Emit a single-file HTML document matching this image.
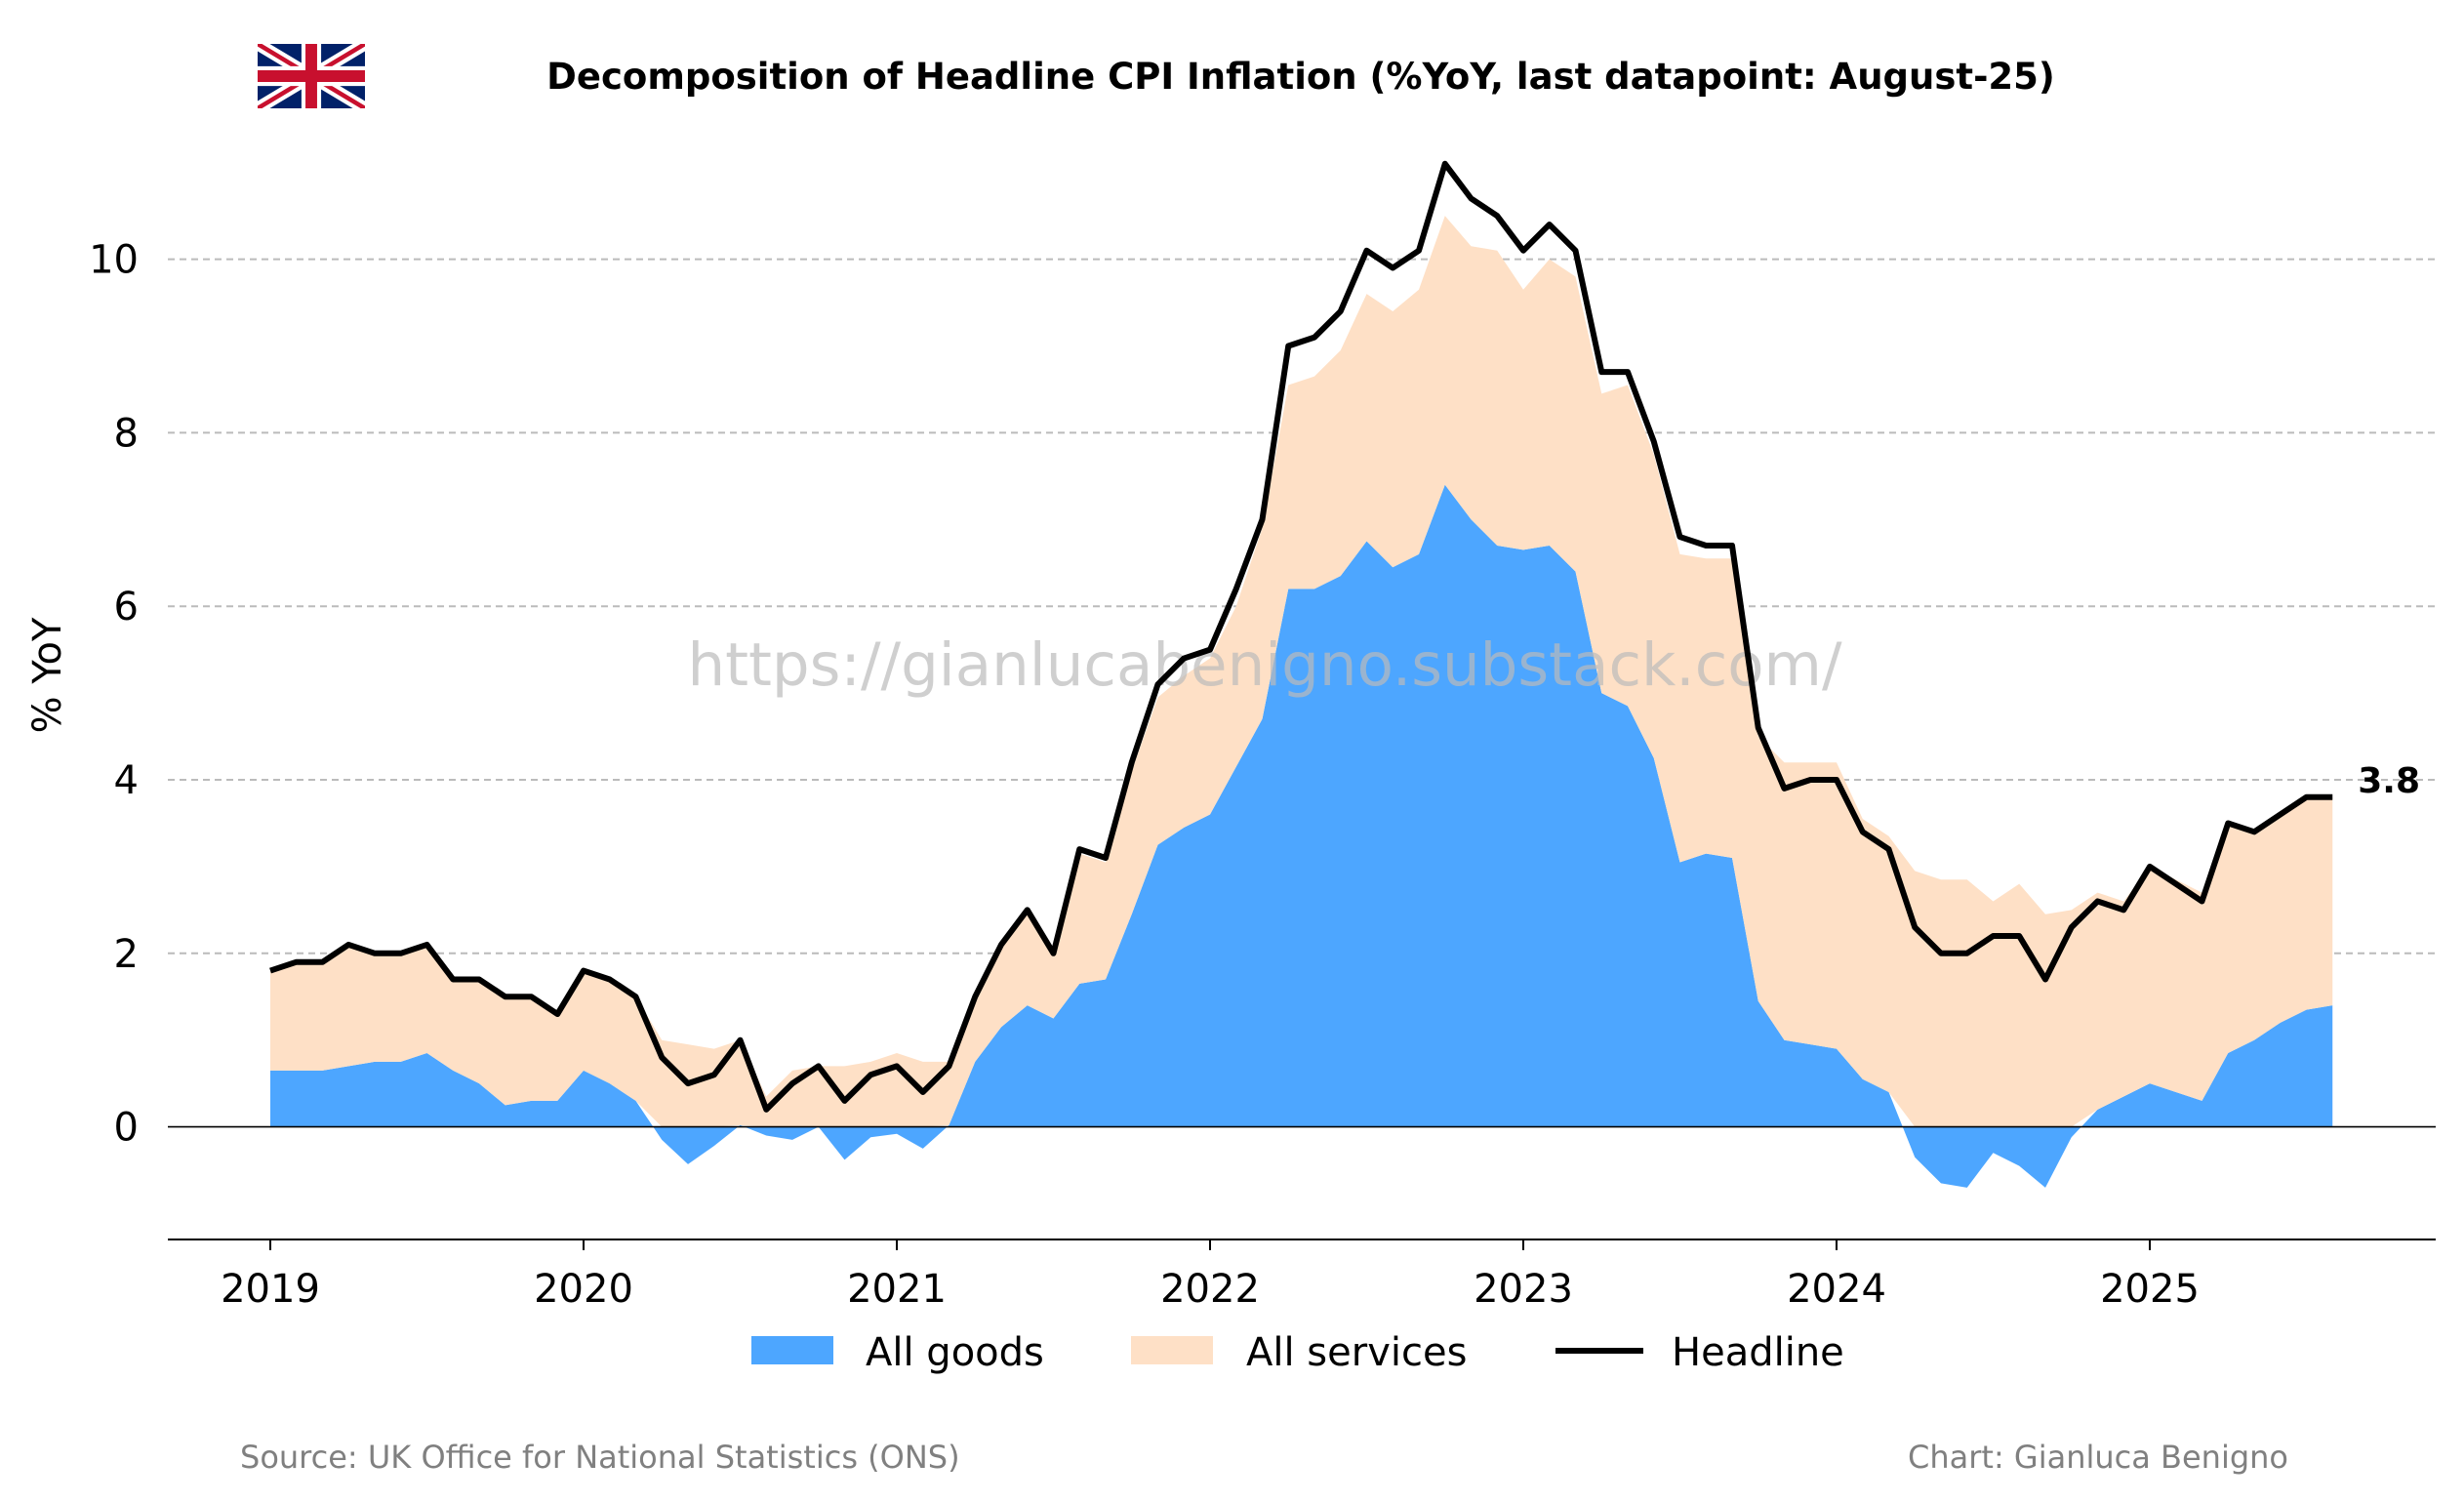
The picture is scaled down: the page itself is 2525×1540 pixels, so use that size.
<!DOCTYPE html>
<html><head><meta charset="utf-8"><style>
html,body{margin:0;padding:0;background:#fff;}
svg{display:block;font-family:"DejaVu Sans","Liberation Sans",sans-serif;}
</style></head><body>
<svg id="chart" width="2525" height="1540" viewBox="0 0 2525 1540" xmlns="http://www.w3.org/2000/svg">
<rect width="2525" height="1540" fill="#fff"/>
<g>
<svg x="264" y="45" width="110" height="66" viewBox="0 0 60 36" preserveAspectRatio="none">
<rect width="60" height="36" fill="#012169"/>
<path d="M0,0 L60,36 M60,0 L0,36" stroke="#fff" stroke-width="7"/>
<path d="M0,0 L60,36 M60,0 L0,36" stroke="#C8102E" stroke-width="2.5"/>
<path d="M30,0 V36 M0,18 H60" stroke="#fff" stroke-width="11"/>
<path d="M30,0 V36 M0,18 H60" stroke="#C8102E" stroke-width="6.5"/>
</svg>
</g>
<text x="1333" y="91" text-anchor="middle" font-size="37" font-weight="bold">Decomposition of Headline CPI Inflation (%YoY, last datapoint: August-25)</text>
<g id="grid"></g>
<g id="areas"></g>
<g id="axes"></g>
<text x="1296" y="702" text-anchor="middle" font-size="61" fill="#bbb" fill-opacity="0.7">https://gianlucabenigno.substack.com/</text>
<g id="lines"></g>
<text transform="translate(62,692) rotate(-90)" text-anchor="middle" font-size="40">% YoY</text>
<g>
<rect x="770" y="1369" width="84" height="29" fill="#4da6ff"/>
<text x="887" y="1399" font-size="40">All goods</text>
<rect x="1159" y="1369" width="84" height="29" fill="#fee0c6"/>
<text x="1277" y="1399" font-size="40">All services</text>
<line x1="1594" y1="1384" x2="1684" y2="1384" stroke="#000" stroke-width="6"/>
<text x="1713" y="1399" font-size="40">Headline</text>
</g>
<text x="246" y="1504" font-size="32" fill="#808080">Source: UK Office for National Statistics (ONS)</text>
<text x="2345" y="1504" text-anchor="end" font-size="32" fill="#808080">Chart: Gianluca Benigno</text>
</svg>
<script>
const startYear = 2019;
const goods = [0.65,0.65,0.65,0.7,0.75,0.75,0.85,0.65,0.5,0.25,0.3,0.3,
0.65,0.5,0.3,-0.15,-0.43,-0.22,0.02,-0.1,-0.15,0,-0.38,-0.12,
-0.08,-0.25,0.02,0.75,1.15,1.4,1.25,1.65,1.7,2.45,3.25,3.45,
3.6,4.15,4.7,6.2,6.2,6.35,6.75,6.45,6.6,7.4,7.0,6.7,
6.65,6.7,6.4,5.0,4.85,4.25,3.05,3.15,3.1,1.45,1.0,0.95,
0.9,0.55,0.4,-0.35,-0.65,-0.7,-0.3,-0.45,-0.7,-0.12,0.2,0.35,
0.5,0.4,0.3,0.85,1.0,1.2,1.35,1.4];
const services = [1.15,1.25,1.25,1.4,1.25,1.25,1.25,1.05,1.2,1.25,1.2,1.0,
1.15,1.2,1.2,1.0,0.95,0.9,0.98,0.35,0.65,0.7,0.7,0.75,
0.85,0.75,0.73,0.75,0.9,1.05,0.75,1.5,1.35,1.65,1.7,1.75,
1.8,1.85,2.2,2.35,2.45,2.6,2.85,2.95,3.05,3.1,3.15,3.4,
3.0,3.3,3.4,3.45,3.7,3.5,3.55,3.4,3.45,3.05,3.2,3.25,
3.3,3.0,2.95,2.95,2.85,2.85,2.6,2.8,2.45,2.5,2.5,2.25,
2.5,2.45,2.4,2.65,2.4,2.4,2.45,2.4];
const headline = [1.8,1.9,1.9,2.1,2.0,2.0,2.1,1.7,1.7,1.5,1.5,1.3,
1.8,1.7,1.5,0.8,0.5,0.6,1.0,0.2,0.5,0.7,0.3,0.6,
0.7,0.4,0.7,1.5,2.1,2.5,2.0,3.2,3.1,4.2,5.1,5.4,
5.5,6.2,7.0,9.0,9.1,9.4,10.1,9.9,10.1,11.1,10.7,10.5,
10.1,10.4,10.1,8.7,8.7,7.9,6.8,6.7,6.7,4.6,3.9,4.0,
4.0,3.4,3.2,2.3,2.0,2.0,2.2,2.2,1.7,2.3,2.6,2.5,
3.0,2.8,2.6,3.5,3.4,3.6,3.8,3.8];
const yTicks = [0,2,4,6,8,10];
const xTicks = [2019,2020,2021,2022,2023,2024,2025];

const NS = 'http://www.w3.org/2000/svg';
const X0 = 277, XPY = 321, Y0 = 1154.6, YPU = 88.9;
const xs = t => X0 + (t - startYear) * XPY;
const xi = i => xs(startYear + i / 12);
const ys = v => Y0 - v * YPU;
function mk(tag, attrs, parent){ const e = document.createElementNS(NS, tag); for (const k in attrs) e.setAttribute(k, attrs[k]); parent.appendChild(e); return e; }
const grid = document.getElementById('grid'), areas = document.getElementById('areas'), axes = document.getElementById('axes'), lines = document.getElementById('lines');

yTicks.forEach(v => {
  if (v !== 0) {
    const g = mk('line', {x1:172, x2:2496, y1:ys(v), y2:ys(v), stroke:'#bbb', 'stroke-width':2, 'stroke-dasharray':'7,5'}, grid);
    
    
  }
  const t = mk('text', {x:142, y:ys(v)+14, 'text-anchor':'end', 'font-size':40}, axes);
  t.textContent = v;
  
  
});

let dG = 'M' + xi(0) + ',' + ys(0);
goods.forEach((g, i) => { dG += ' L' + xi(i) + ',' + ys(g); });
dG += ' L' + xi(goods.length-1) + ',' + ys(0) + ' Z';
const ga = mk('path', {d:dG, fill:'#4da6ff'}, areas);



const low = goods.map(g => Math.max(g, 0));
let dS = '';
services.forEach((s, i) => { dS += (i ? ' L' : 'M') + xi(i) + ',' + ys(low[i] + s); });
for (let i = services.length - 1; i >= 0; i--) dS += ' L' + xi(i) + ',' + ys(low[i]);
dS += ' Z';
const sa = mk('path', {d:dS, fill:'#fee0c6'}, areas);



const zl = mk('line', {x1:172, x2:2496, y1:ys(0), y2:ys(0), stroke:'#000', 'stroke-width':1.6}, axes);


const ax = mk('line', {x1:172, x2:2496, y1:1270, y2:1270, stroke:'#000', 'stroke-width':2}, axes);


xTicks.forEach(y => {
  const tk = mk('line', {x1:xs(y), x2:xs(y), y1:1270, y2:1281, stroke:'#000', 'stroke-width':2}, axes);
  
  
  const t = mk('text', {x:xs(y), y:1334, 'text-anchor':'middle', 'font-size':40}, axes);
  t.textContent = y;
  
  
});

const hl = mk('polyline', {points: headline.map((v,i) => xi(i) + ',' + ys(v)).join(' '), fill:'none', stroke:'#000', 'stroke-width':6, 'stroke-linejoin':'round'}, lines);


const last = headline.length - 1;
const lbl = mk('text', {x:xi(last) + 26, y:ys(headline[last]) - 5, 'font-size':36, 'font-weight':'bold'}, lines);
lbl.textContent = headline[last].toFixed(1);


</script>
</body></html>
